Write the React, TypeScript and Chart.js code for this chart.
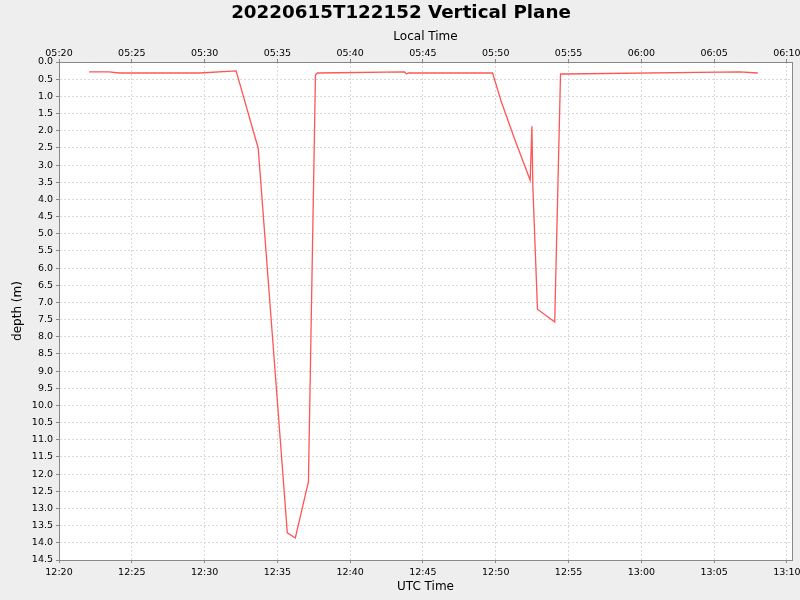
import { Chart, registerables } from "chart.js";
import React, { useEffect, useRef } from "react";

Chart.register(...registerables);

// UTC sample times and depth (m)
const utcTimes = [
  "12:22:04", "12:23:26", "12:24:08", "12:29:38", "12:32:10", "12:33:41",
  "12:35:41", "12:36:14", "12:37:08", "12:37:37", "12:37:45", "12:43:44",
  "12:43:52", "12:44:00", "12:49:47", "12:50:23", "12:51:17", "12:52:22",
  "12:52:29", "12:52:33", "12:52:52", "12:54:03", "12:54:27", "12:54:43",
  "13:06:46", "13:08:00",
];
const depths = [
  0.29, 0.29, 0.32, 0.32, 0.26, 2.51,
  13.71, 13.86, 12.22, 0.38, 0.32, 0.29,
  0.35, 0.32, 0.32, 1.16, 2.23, 3.44,
  1.87, 3.64, 7.2, 7.57, 0.35, 0.35,
  0.29, 0.32,
];
// axis ticks, minutes of the UTC day (12:20 .. 13:10)
const timeTicks = [740, 745, 750, 755, 760, 765, 770, 775, 780, 785, 790];

const TITLE = "20220615T122152 Vertical Plane";
const LOCAL_OFFSET_MIN = -7 * 60;
const X_MIN = 12 * 60 + 20;
const X_MAX = 13 * 60 + 10.35;
const Y_MAX = 14.5;

const toMinutes = (t: string): number => {
  const [h, m, s] = t.split(":").map(Number);
  return h * 60 + m + s / 60;
};

const fmtHM = (v: number): string => {
  const total = Math.round(((v % 1440) + 1440) % 1440);
  const h = Math.floor(total / 60);
  const m = total % 60;
  return `${String(h).padStart(2, "0")}:${String(m).padStart(2, "0")}`;
};

const FONT = "'DejaVu Sans', sans-serif";
const GRID = "#d9d9d9";
const AXIS = "#888888";

const frame = {
  id: "frame",
  beforeDraw(chart: Chart) {
    const { ctx, chartArea: a } = chart;
    ctx.save();
    ctx.fillStyle = "#eeeeee";
    ctx.fillRect(0, 0, chart.width, chart.height);
    ctx.fillStyle = "#ffffff";
    ctx.fillRect(a.left, a.top, a.right - a.left, a.bottom - a.top);
    ctx.restore();
  },
  afterDraw(chart: Chart) {
    const { ctx, chartArea: a } = chart;
    ctx.save();
    ctx.strokeStyle = AXIS;
    ctx.lineWidth = 1;
    ctx.strokeRect(a.left + 0.5, a.top + 0.5, a.right - a.left, a.bottom - a.top);
    ctx.fillStyle = "#000000";
    ctx.font = `bold 18.3px ${FONT}`;
    ctx.textAlign = "center";
    ctx.textBaseline = "middle";
    ctx.fillText(TITLE, 401, 13);
    ctx.restore();
  },
};

const fixedTicks = (scale: any) => {
  scale.ticks = timeTicks.map((v) => ({ value: v }));
};

// fixed box size, and no extra side room for the end labels
const fitTimeAxis = (s: any) => {
  s.height = 40;
  s.paddingLeft = 0;
  s.paddingRight = 0;
};

const App: React.FC = () => {
  const canvasRef = useRef<HTMLCanvasElement>(null);

  useEffect(() => {
    document.body.style.margin = "0";
    const ctx = canvasRef.current?.getContext("2d");
    if (!ctx) return;

    const points = utcTimes.map((t, i) => ({ x: toMinutes(t), y: depths[i] }));

    const chart = new Chart(ctx, {
      type: "line",
      data: {
        datasets: [
          {
            label: "depth",
            data: points,
            borderColor: "#ff5555",
            borderWidth: 1.3,
            pointRadius: 0,
            tension: 0,
            fill: false,
          },
        ],
      },
      options: {
        responsive: false,
        animation: false,
        layout: { padding: { top: 22, right: 8, left: 0, bottom: 0 } },
        plugins: {
          legend: { display: false },
          tooltip: { enabled: false },
        },
        scales: {
          x: {
            type: "linear",
            position: "bottom",
            min: X_MIN,
            max: X_MAX,
            afterBuildTicks: fixedTicks,
            afterFit: fitTimeAxis,
            ticks: {
              autoSkip: false,
              maxRotation: 0,
              padding: 4,
              color: "#000",
              font: { family: FONT, size: 9.5 },
              callback: (v: any) => fmtHM(Number(v)),
            },
            grid: { color: GRID, tickColor: AXIS, tickLength: 3 },
            border: { color: AXIS, dash: [2, 2] },
            title: {
              display: true,
              text: "UTC Time",
              color: "#000",
              font: { family: FONT, size: 12 },
              padding: { top: 0, bottom: 6 },
            },
          },
          x2: {
            type: "linear",
            position: "top",
            min: X_MIN,
            max: X_MAX,
            afterBuildTicks: fixedTicks,
            afterFit: fitTimeAxis,
            ticks: {
              autoSkip: false,
              maxRotation: 0,
              padding: 0,
              color: "#000",
              font: { family: FONT, size: 9.5 },
              callback: (v: any) => fmtHM(Number(v) + LOCAL_OFFSET_MIN),
            },
            grid: { drawOnChartArea: false, tickColor: AXIS, tickLength: 3 },
            border: { color: AXIS },
            title: {
              display: true,
              text: "Local Time",
              color: "#000",
              font: { family: FONT, size: 12 },
              padding: { top: 8, bottom: 0 },
            },
          },
          y: {
            type: "linear",
            reverse: true,
            min: 0,
            max: Y_MAX,
            afterFit: (s: any) => {
              s.width = 59;
              s.paddingTop = 0;
              s.paddingBottom = 0;
            },
            ticks: {
              stepSize: 0.5,
              autoSkip: false,
              padding: 3,
              color: "#000",
              font: { family: FONT, size: 9.5 },
              callback: (v: any) => Number(v).toFixed(1),
            },
            grid: { color: GRID, tickColor: AXIS, tickLength: 3 },
            border: { color: AXIS, dash: [2, 2] },
            title: {
              display: true,
              text: "depth (m)",
              color: "#000",
              font: { family: FONT, size: 12 },
              padding: { top: 11, bottom: 0 },
            },
          },
        },
      },
      plugins: [frame],
    });

    return () => chart.destroy();
  }, []);

  return (
    <div style={{ width: 800, height: 600 }}>
      <canvas ref={canvasRef} width={800} height={600}></canvas>
    </div>
  );
};

export default App;
